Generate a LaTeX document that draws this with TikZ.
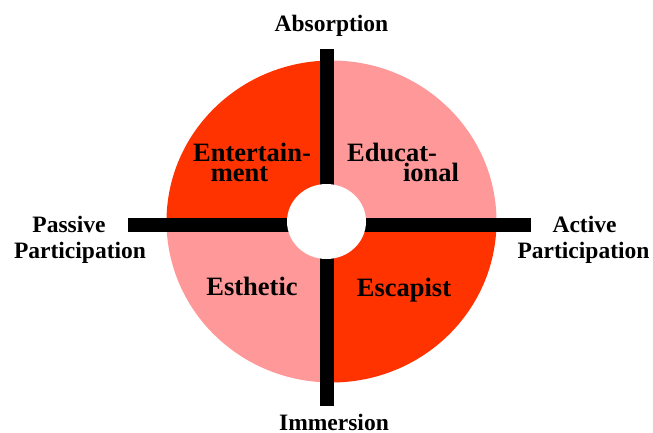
\documentclass[tikz,border=0pt]{standalone}
\usepackage{fontspec}
\setmainfont{Liberation Serif}
\definecolor{qred}{HTML}{FF3300}
\definecolor{qpink}{HTML}{FF9999}
\begin{document}
\begin{tikzpicture}[x=1pt,y=-1pt,
  axislabel/.style={font=\fontsize{23.5}{26}\selectfont\bfseries,inner sep=0pt,anchor=base},
  quadlabel/.style={font=\fontsize{26.5}{20}\selectfont\bfseries,inner sep=0pt,anchor=base},
  bar/.style={line width=14pt,line cap=butt,black}]
\useasboundingbox (0,0) rectangle (653,433);
% quadrant disc
\begin{scope}
  \clip (331.5,221.5) ellipse [x radius=165, y radius=161];
  \fill[qred]  (150,50) rectangle (327,225);
  \fill[qpink] (327,50) rectangle (510,225);
  \fill[qpink] (150,225) rectangle (327,400);
  \fill[qred]  (327,225) rectangle (510,400);
\end{scope}
% axes
\coordinate (top) at (327,49);
\coordinate (bottom) at (327,406);
\coordinate (left) at (128,225);
\coordinate (right) at (531,225);
\draw[bar] (top) -- (bottom);
\draw[bar] (left) -- (right);
\fill[white] (326.5,221.5) ellipse [x radius=39.5, y radius=37.5];
% axis labels
\node[axislabel] (absorption) at (331.5,32) {Absorption};
\node[axislabel] (immersion) at (334,430) {Immersion};
\node[axislabel] (passive1) at (69,232) {Passive};
\node[axislabel] (passive2) at (80,258) {Participation};
\node[axislabel] (active1) at (584.5,232) {Active};
\node[axislabel] (active2) at (583.5,258) {Participation};
% quadrant labels
\node[quadlabel] (ent1) at (252,161) {Entertain-};
\node[quadlabel] (ent2) at (239.5,181) {ment};
\node[quadlabel] (edu1) at (392,161) {Educat-};
\node[quadlabel] (edu2) at (431,181) {ional};
\node[quadlabel] (esthetic) at (252,295) {Esthetic};
\node[quadlabel] (escapist) at (404,296) {Escapist};
\end{tikzpicture}
\end{document}
